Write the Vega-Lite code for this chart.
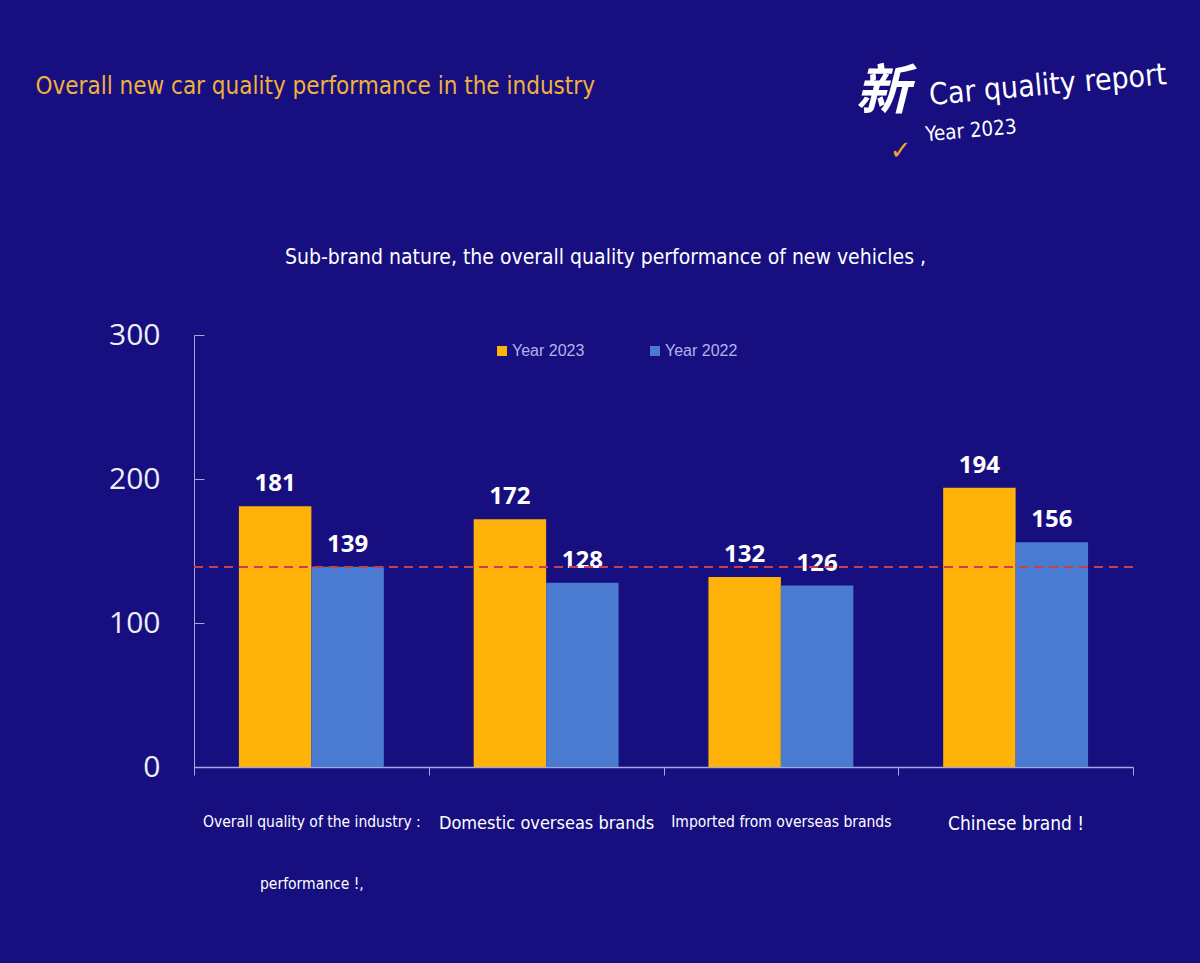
{
  "$schema": "https://vega.github.io/schema/vega-lite/v6.json",
  "width": 939,
  "height": 432,
  "autosize": {"type": "none"},
  "padding": {"left": 194, "top": 335, "right": 67, "bottom": 196},
  "background": "#170e80",
  "config": {"view": {"stroke": null}},
  "data": {
    "values": [
      {"category": "Overall quality of the industry performance", "year": "Year 2023", "value": 181},
      {"category": "Overall quality of the industry performance", "year": "Year 2022", "value": 139},
      {"category": "Domestic overseas brands", "year": "Year 2023", "value": 172},
      {"category": "Domestic overseas brands", "year": "Year 2022", "value": 128},
      {"category": "Imported from overseas brands", "year": "Year 2023", "value": 132},
      {"category": "Imported from overseas brands", "year": "Year 2022", "value": 126},
      {"category": "Chinese brand !", "year": "Year 2023", "value": 194},
      {"category": "Chinese brand !", "year": "Year 2022", "value": 156}
    ]
  },
  "resolve": {"axis": {"x": "independent"}},
  "layer": [
    {
      "mark": {"type": "bar"},
      "encoding": {
        "x": {
          "field": "category",
          "type": "nominal",
          "sort": null,
          "scale": {"paddingInner": 0, "paddingOuter": 0},
          "axis": {
            "orient": "bottom",
            "title": null,
            "labelAngle": 0,
            "labelFont": "DejaVu Sans Condensed",
            "labelFontSize": {
              "condition": [
                {"test": "datum.value == 'Domestic overseas brands'", "value": 18},
                {"test": "datum.value == 'Chinese brand !'", "value": 19}
              ],
              "value": 15.5
            },
            "labelColor": "#ffffff",
            "labelPadding": 39,
            "labelLineHeight": 62,
            "labelExpr": "datum.value == 'Overall quality of the industry performance' ? ['Overall quality of the industry :', 'performance !,'] : datum.value",
            "tickBand": "extent",
            "tickSize": 8,
            "tickColor": "#a8a8e0",
            "domainColor": "#a8a8e0",
            "domainWidth": 1.5,
            "labelLimit": 400
          }
        },
        "xOffset": {
          "field": "year",
          "type": "nominal",
          "sort": ["Year 2023", "Year 2022"],
          "scale": {"paddingOuter": 0.62, "paddingInner": 0}
        },
        "y": {
          "field": "value",
          "type": "quantitative",
          "scale": {"domain": [0, 300]},
          "axis": {
            "values": [0, 100, 200, 300],
            "grid": false,
            "labelFont": "Open Sans",
            "labelFontSize": 30,
            "labelColor": "#eeeef8",
            "labelPadding": 44,
            "tickSize": -10,
            "tickColor": "#a8a8e0",
            "domainColor": "#a8a8e0",
            "title": "Overall new car quality performance in the industry",
            "titleAngle": 0,
            "titleAlign": "left",
            "titleBaseline": "alphabetic",
            "titleX": -159,
            "titleY": -242,
            "titleColor": "#f0b13c",
            "titleFont": "DejaVu Sans Condensed",
            "titleFontSize": 24,
            "titleFontWeight": "normal"
          }
        },
        "color": {
          "field": "year",
          "type": "nominal",
          "scale": {"domain": ["Year 2023", "Year 2022"], "range": ["#ffb20a", "#4a7bd0"]},
          "legend": {
            "orient": "none",
            "legendX": 300,
            "legendY": 8,
            "direction": "horizontal",
            "title": null,
            "symbolType": "square",
            "symbolSize": 100,
            "symbolStrokeWidth": 0,
            "labelColor": "#b4b4ec",
            "labelFont": "Liberation Sans",
            "labelFontSize": 16,
            "labelOffset": 2,
            "columnPadding": 62
          }
        }
      }
    },
    {
      "mark": {"type": "text", "color": "#ffffff", "font": "Open Sans", "fontSize": 24, "fontWeight": "bold", "baseline": "alphabetic", "dy": -15},
      "encoding": {
        "x": {"field": "category", "type": "nominal", "sort": null, "axis": null},
        "xOffset": {"field": "year", "type": "nominal", "sort": ["Year 2023", "Year 2022"]},
        "y": {"field": "value", "type": "quantitative", "scale": {"domain": [0, 300]}},
        "text": {"field": "value", "type": "quantitative"}
      }
    },
    {
      "mark": {"type": "rule", "color": "#c8404a", "strokeDash": [9, 6], "strokeWidth": 1.5},
      "encoding": {"y": {"datum": 139, "scale": {"domain": [0, 300]}}}
    },
    {
      "data": {"values": [{}]},
      "mark": {"type": "text", "text": "新", "color": "#ffffff", "font": "Noto Sans CJK SC", "fontSize": 54, "fontWeight": "bold", "fontStyle": "italic", "align": "center", "baseline": "middle", "dx": -133},
      "encoding": {
        "x": {
          "datum": "Chinese brand !",
          "type": "nominal",
          "axis": {
            "orient": "top",
            "labels": false,
            "ticks": false,
            "domain": false,
            "title": "Sub-brand nature, the overall quality performance of new vehicles ,",
            "titleX": 411,
            "titleY": -72,
            "titleAlign": "center",
            "titleBaseline": "alphabetic",
            "titleColor": "#ffffff",
            "titleFont": "DejaVu Sans Condensed",
            "titleFontSize": 21,
            "titleFontWeight": "normal"
          }
        },
        "y": {"datum": 468, "scale": {"domain": [0, 300]}}
      }
    },
    {
      "data": {"values": [{}]},
      "mark": {"type": "text", "text": "Car quality report", "color": "#ffffff", "font": "DejaVu Sans Condensed", "fontSize": 30, "align": "left", "baseline": "alphabetic", "angle": 355, "dx": -86},
      "encoding": {
        "x": {"datum": "Chinese brand !", "type": "nominal", "axis": null},
        "y": {"datum": 465, "scale": {"domain": [0, 300]}}
      }
    },
    {
      "data": {"values": [{}]},
      "mark": {"type": "text", "text": "Year 2023", "color": "#ffffff", "font": "DejaVu Sans Condensed", "fontSize": 20.5, "align": "left", "baseline": "alphabetic", "angle": 355, "dx": -90},
      "encoding": {
        "x": {"datum": "Chinese brand !", "type": "nominal", "axis": null},
        "y": {"datum": 440, "scale": {"domain": [0, 300]}}
      }
    },
    {
      "data": {"values": [{}]},
      "mark": {"type": "text", "text": "✓", "color": "#f0a828", "font": "DejaVu Sans", "fontSize": 26, "align": "center", "baseline": "middle", "dx": -115},
      "encoding": {
        "x": {"datum": "Chinese brand !", "type": "nominal", "axis": null},
        "y": {"datum": 428, "scale": {"domain": [0, 300]}}
      }
    }
  ]
}
